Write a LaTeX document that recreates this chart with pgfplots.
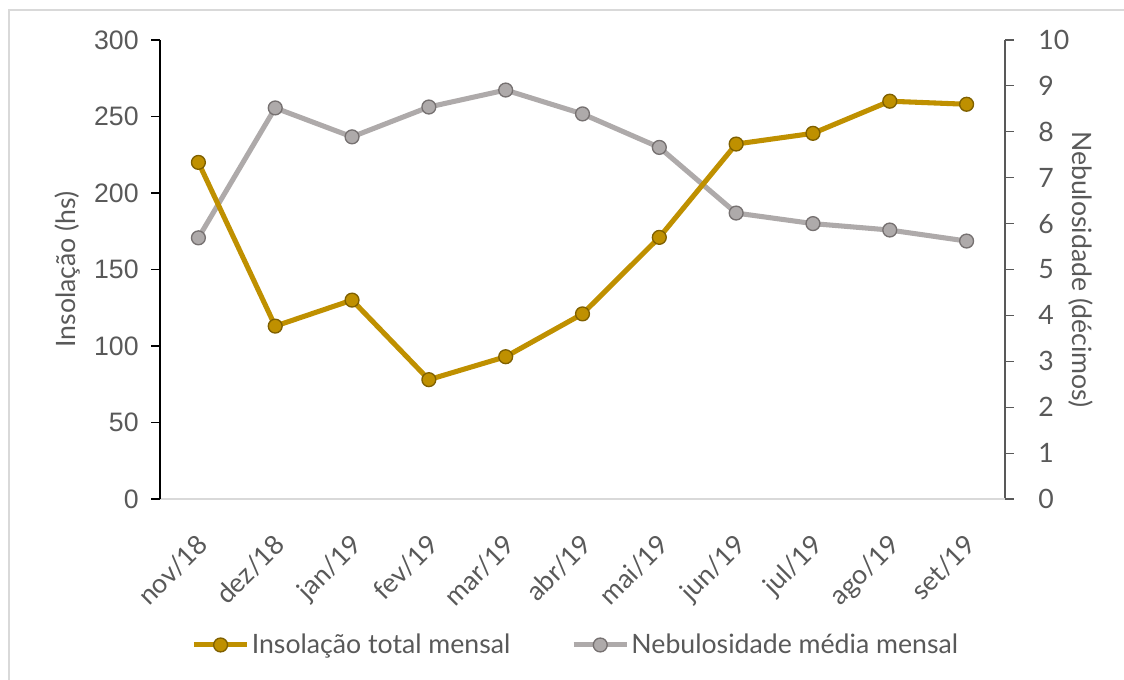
\documentclass[border=0pt]{standalone}
\usepackage{pgfplots}
\pgfplotsset{compat=1.18}
\usepackage{fontspec}
\setmainfont{Lato}
\newfontfamily\arialf{Liberation Sans}
\definecolor{gold}{HTML}{BF9000}
\definecolor{golddark}{HTML}{7F6000}
\definecolor{grayl}{HTML}{AEAAAA}
\definecolor{graydark}{HTML}{767171}
\definecolor{txt}{HTML}{595959}
\definecolor{framec}{HTML}{D9D9D9}
\newcommand{\fs}{\fontsize{20}{24}\selectfont}
\begin{document}
\begin{tikzpicture}
\useasboundingbox (-120pt,-135pt) rectangle (723pt,374.25pt);
\draw[framec, line width=1.5pt] (-113.25pt,-140pt) -- (-113.25pt,366.75pt) -- (730pt,366.75pt);
\pgfplotsset{
  common/.style={
    at={(0,0)}, anchor=south west, scale only axis,
    width=633.75pt, height=344.25pt,
    xmin=-0.5, xmax=10.5, clip=false,
    tick align=outside, major tick length=6.5pt,
    /pgf/number format/assume math mode=true,
    tick label style={font=\fs, text=txt},
    label style={font=\fs, text=txt},
  },
}
% Secondary axis (right): Nebulosidade
\begin{axis}[common,
  ymin=0, ymax=10, ytick={0,1,...,10},
  axis y line*=right, axis x line=none,
  y axis line style={color=txt, line width=0.8pt},
  ytick style={color=txt, line width=0.8pt},
  yticklabel style={xshift=15pt},
  ylabel={Nebulosidade (décimos)},
  ylabel style={rotate=180, at={(rel axis cs:1,0.5)}, anchor=center, yshift=57pt},
]
\addplot[color=grayl, line width=3.8pt, mark=*, mark size=5.2pt,
  mark options={fill=grayl, draw=graydark, line width=1pt}]
  coordinates {(0,5.69) (1,8.52) (2,7.89) (3,8.54) (4,8.91) (5,8.39) (6,7.66) (7,6.23) (8,6.00) (9,5.86) (10,5.62)};
\end{axis}
% Primary axis (left): Insolação
\begin{axis}[common,
  ymin=0, ymax=300, ytick={0,50,...,300},
  axis y line*=left, axis x line*=bottom,
  x axis line style={color=framec, line width=1pt, -},
  y axis line style={color=black, line width=0.8pt, -},
  ytick style={color=black, line width=0.8pt},
  xtick={0,...,10}, xtick style={draw=none},
  xticklabels={nov/18,dez/18,jan/19,fev/19,mar/19,abr/19,mai/19,jun/19,jul/19,ago/19,set/19},
  xticklabel style={xshift=-2pt, yshift=-17pt, rotate=45, anchor=north east, inner sep=1pt},
  yticklabel style={font=\arialf\fs, xshift=-6pt},
  ylabel={Insolação (hs)},
  ylabel style={at={(rel axis cs:0,0.5)}, anchor=center, yshift=69pt},
  legend style={at={(0.492,-0.318)}, anchor=center, draw=none, fill=none,
    legend columns=2, font=\fs, text=txt,
    /tikz/every even column/.append style={column sep=44pt},
    inner sep=0pt, nodes={inner sep=1.5pt}},
  legend image code/.code={\draw[mark repeat=2, mark phase=2, #1] plot coordinates {(0pt,0pt) (20pt,0pt) (40pt,0pt)};},
]
\addplot[color=gold, line width=3.8pt, mark=*, mark size=5.2pt,
  mark options={fill=gold, draw=golddark, line width=1pt}]
  coordinates {(0,220) (1,113) (2,130) (3,78) (4,93) (5,121) (6,171) (7,232) (8,239) (9,260) (10,258)};
\addlegendentry{Insolação total mensal}
\addlegendimage{color=grayl, line width=3.8pt, mark=*, mark size=5.2pt,
  mark options={fill=grayl, draw=graydark, line width=1pt}}
\addlegendentry{Nebulosidade média mensal}
\end{axis}
\end{tikzpicture}
\end{document}
